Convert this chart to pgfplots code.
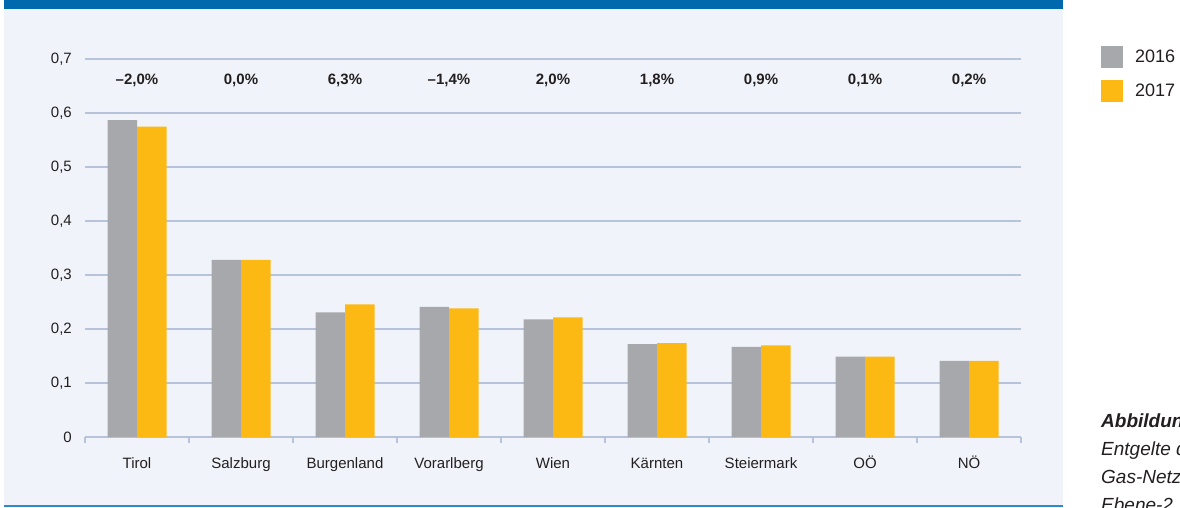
\documentclass[border=0pt]{standalone}
\usepackage{pgfplots}
\pgfplotsset{compat=1.18}
\usepackage{fontspec}
\setmainfont{Liberation Sans}
\definecolor{panelbg}{HTML}{F0F4FA}
\definecolor{bandblue}{HTML}{0069AE}
\definecolor{linebl}{HTML}{2E8BCB}
\definecolor{gridcol}{HTML}{B7C3DA}
\definecolor{bargray}{HTML}{A7A8AB}
\definecolor{baryel}{HTML}{FDB913}
\definecolor{txt}{HTML}{231F20}
\tikzset{pct/.style={font=\bfseries\fontsize{15}{17}\selectfont, text=txt}}
\begin{document}
\begin{tikzpicture}[x=1pt,y=1pt]
\clip (0,0) rectangle (1180,507);
\fill[white] (0,0) rectangle (1180,507);
\fill[panelbg] (4,0) rectangle (1063,507);
\fill[bandblue] (4,498) rectangle (1063,507);
\fill[linebl] (4,0) rectangle (1063,2);
\begin{axis}[
  at={(85pt,70pt)}, anchor=south west,
  scale only axis, width=936pt, height=378pt,
  xmin=-0.5, xmax=8.5, ymin=0, ymax=0.7,
  ybar=0pt, bar width=29.5pt,
  axis x line*=bottom, axis y line*=left,
  x axis line style={-, draw=gridcol, line width=1.5pt},
  y axis line style={draw=none},
  xtick={0,...,8},
  xticklabels={Tirol,Salzburg,Burgenland,Vorarlberg,Wien,Kärnten,Steiermark,OÖ,NÖ},
  minor xtick={-0.5,0.5,...,8.5},
  major x tick style={draw=none},
  minor x tick style={draw=gridcol, line width=1.2pt},
  minor tick length=6pt, xtick align=outside,
  ytick={0,0.1,0.2,0.3,0.4,0.5,0.6,0.7},
  ymajorgrids, grid style={draw=gridcol, line width=1.2pt},
  major y tick style={draw=none}, major tick length=0pt,
  /pgf/number format/assume math mode=true,
  /pgf/number format/use comma,
  /pgf/number format/fixed,
  /pgf/number format/precision=1,
  yticklabel style={font=\fontsize{15}{17}\selectfont, text=txt, inner sep=0pt, anchor=east, xshift=-13pt},
  xticklabel style={font=\fontsize{15}{17}\selectfont, text=txt, inner sep=0pt, anchor=base, yshift=-31pt},
  clip=false,
  legend style={at={(1.0855,1.0344)}, anchor=north west, draw=none, fill=none,
    inner sep=0pt, outer sep=0pt, row sep=12pt,
    font=\fontsize{18}{20}\selectfont, text=txt,
    nodes={inner sep=0pt}},
  legend cell align=left,
  legend image code/.code={\fill[#1] (0pt,-11pt) rectangle (22pt,11pt); \path (34pt,0pt);},
]
\addplot[fill=bargray, draw=none] coordinates {(0,0.587) (1,0.328) (2,0.231) (3,0.241) (4,0.218) (5,0.172) (6,0.167) (7,0.149) (8,0.141)};
\addplot[fill=baryel, draw=none] coordinates {(0,0.575) (1,0.328) (2,0.2455) (3,0.238) (4,0.2215) (5,0.174) (6,0.1695) (7,0.149) (8,0.141)};
\legend{2016,2017}
\node[pct] at (axis cs:0,0.661) {–2,0\%};
\node[pct] at (axis cs:1,0.661) {0,0\%};
\node[pct] at (axis cs:2,0.661) {6,3\%};
\node[pct] at (axis cs:3,0.661) {–1,4\%};
\node[pct] at (axis cs:4,0.661) {2,0\%};
\node[pct] at (axis cs:5,0.661) {1,8\%};
\node[pct] at (axis cs:6,0.661) {0,9\%};
\node[pct] at (axis cs:7,0.661) {0,1\%};
\node[pct] at (axis cs:8,0.661) {0,2\%};
\end{axis}
\begin{scope}[font=\itshape\fontsize{19}{22}\selectfont, text=txt]
\node[anchor=base west, inner sep=0pt] at (1101,80) {\bfseries Abbildung 12};
\node[anchor=base west, inner sep=0pt] at (1101,52) {Entgelte der};
\node[anchor=base west, inner sep=0pt] at (1101,24) {Gas-Netzebene};
\node[anchor=base west, inner sep=0pt] at (1101,-4) {Ebene-2};
\end{scope}
\end{tikzpicture}
\end{document}
